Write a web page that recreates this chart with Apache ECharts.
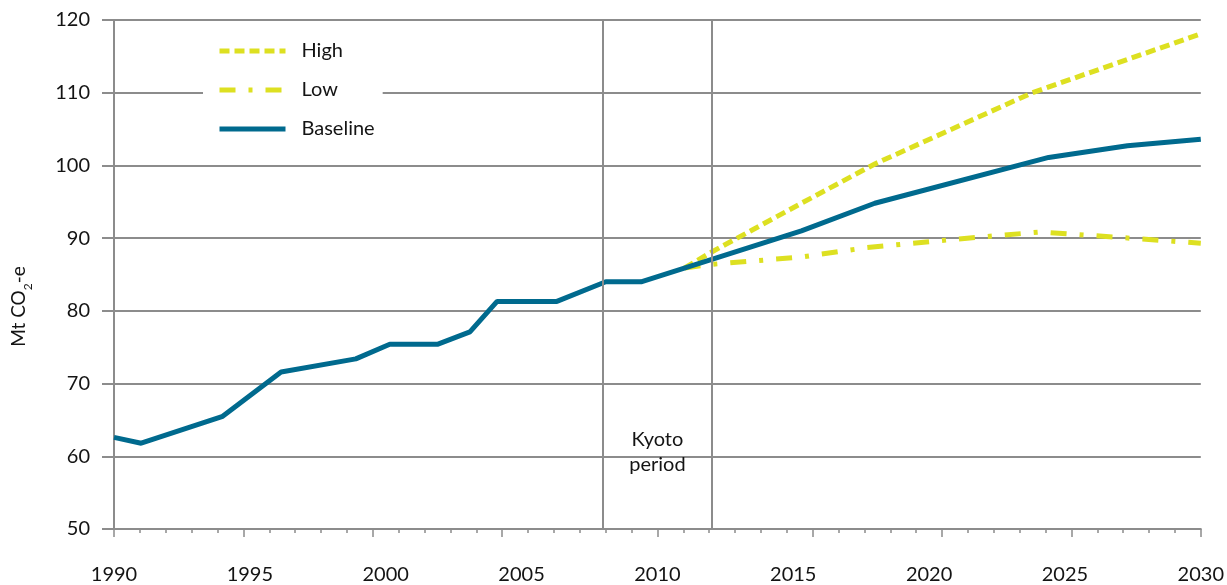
<!DOCTYPE html>
<html>
<head>
<meta charset="utf-8">
<script src="https://cdn.jsdelivr.net/npm/echarts@6/dist/echarts.min.js"></script>
<style>
  html, body { margin: 0; padding: 0; background: #fff; }
  #chart { width: 1227px; height: 585px; }
</style>
</head>
<body>
<div id="chart"></div>
<script>
// emissions, Mt CO2-e
const baselineYears = [1990, 1991, 1994, 1996.15, 1998.9, 2000.15, 2001.9, 2003.1, 2004.1, 2006.3, 2008.1, 2009.4, 2015.3, 2018, 2024.4, 2027.3, 2030];
const baselineValues = [62.6, 61.8, 65.5, 71.6, 73.4, 75.4, 75.4, 77.1, 81.3, 81.3, 84.0, 84.0, 91.0, 94.8, 101.1, 102.7, 103.6];
const highYears = [2011, 2012, 2015.3, 2018, 2023.8, 2030];
const highValues = [85.9, 88.1, 94.8, 100.2, 110.0, 118.1];
const lowYears = [2011, 2012, 2015.3, 2017.7, 2021.4, 2024.1, 2027, 2030];
const lowValues = [85.9, 86.4, 87.4, 88.7, 90.0, 90.85, 90.1, 89.3];
const kyotoYears = [2008, 2012];
// the original axis has 42 tick steps, major ticks at these steps
const tickSteps = 42;
const majorTickSteps = [0, 5, 10, 15, 21, 27, 32, 37, 42];

const gray = '#8c8c8c';
const ink = '#141414';
const teal = '#006a8e';
const lime = '#dde021';
const font = 'Lato';

function pairs(xs, ys) {
  return xs.map((x, i) => [x, ys[i]]);
}

const chart = echarts.init(document.getElementById('chart'));
const option = {
  animation: false,
  textStyle: { fontFamily: font },
  grid: { left: 114, right: 26, top: 20, bottom: 56 },
  legend: {
    data: ['High', 'Low', 'Baseline'],
    orient: 'vertical',
    left: 203,
    top: 35,
    itemWidth: 66,
    itemHeight: 14,
    itemGap: 19,
    padding: [6, 8, 6, 14],
    backgroundColor: '#fff',
    itemStyle: { opacity: 0 },
    lineStyle: { width: 5 },
    textStyle: { fontSize: 20, color: ink, fontFamily: font, padding: [0, 0, 10, 11] }
  },
  xAxis: [
    {
      type: 'value',
      min: 1990,
      max: 2030,
      interval: 5,
      axisLine: { show: true, lineStyle: { color: gray, width: 2 } },
      axisTick: { show: false },
      splitLine: { show: false },
      axisLabel: { fontSize: 20, color: ink, margin: 36, fontFamily: font, formatter: v => String(v) }
    },
    {
      type: 'value',
      min: 0,
      max: tickSteps,
      interval: 1,
      position: 'bottom',
      axisLine: { show: false },
      axisLabel: { show: false },
      splitLine: { show: false },
      axisTick: { show: true, length: 4, lineStyle: { color: gray, width: 1.5 } }
    },
    {
      type: 'value',
      min: 0,
      max: tickSteps,
      position: 'bottom',
      axisLine: { show: false },
      axisLabel: { show: false },
      splitLine: { show: false },
      axisTick: { show: true, length: 8, customValues: majorTickSteps, lineStyle: { color: gray, width: 1.5 } }
    }
  ],
  yAxis: {
    type: 'value',
    min: 50,
    max: 120,
    interval: 10,
    name: '{a|Mt CO}{s|2}{a|-e}',
    nameLocation: 'middle',
    nameGap: 80,
    nameTextStyle: {
      padding: [0, 64, 0, 0],
      rich: {
        a: { fontSize: 19, color: ink, fontFamily: font },
        s: { fontSize: 12, color: ink, fontFamily: font, verticalAlign: 'bottom', lineHeight: 30 }
      }
    },
    axisLine: { show: true, lineStyle: { color: gray, width: 2 } },
    axisTick: { show: true, length: 12, lineStyle: { color: gray, width: 2 } },
    splitLine: { show: true, lineStyle: { color: gray, width: 2 } },
    axisLabel: { fontSize: 20, color: ink, margin: 24, fontFamily: font }
  },
  series: [
    {
      name: 'Kyoto',
      type: 'line',
      data: [],
      z: 1,
      markLine: {
        silent: true,
        symbol: 'none',
        label: { show: false },
        lineStyle: { color: gray, width: 2, type: 'solid' },
        data: kyotoYears.map(y => ({ xAxis: y }))
      },
      markArea: {
        silent: true,
        itemStyle: { color: 'transparent' },
        label: {
          show: true,
          position: 'insideBottom',
          distance: 52,
          formatter: 'Kyoto\nperiod',
          fontSize: 20,
          lineHeight: 25,
          color: ink,
          fontFamily: font
        },
        data: [[{ xAxis: kyotoYears[0] }, { xAxis: kyotoYears[1] }]]
      }
    },
    {
      name: 'High',
      type: 'line',
      z: 3,
      symbol: 'none',
      color: lime,
      lineStyle: { color: lime, width: 5, type: [10, 5] },
      data: pairs(highYears, highValues)
    },
    {
      name: 'Low',
      type: 'line',
      z: 3,
      symbol: 'none',
      color: lime,
      lineStyle: { color: lime, width: 5, type: [16, 13, 4, 13] },
      data: pairs(lowYears, lowValues)
    },
    {
      name: 'Baseline',
      type: 'line',
      z: 4,
      symbol: 'none',
      color: teal,
      lineStyle: { color: teal, width: 5 },
      data: pairs(baselineYears, baselineValues)
    }
  ]
};
chart.setOption(option);
</script>
</body>
</html>
